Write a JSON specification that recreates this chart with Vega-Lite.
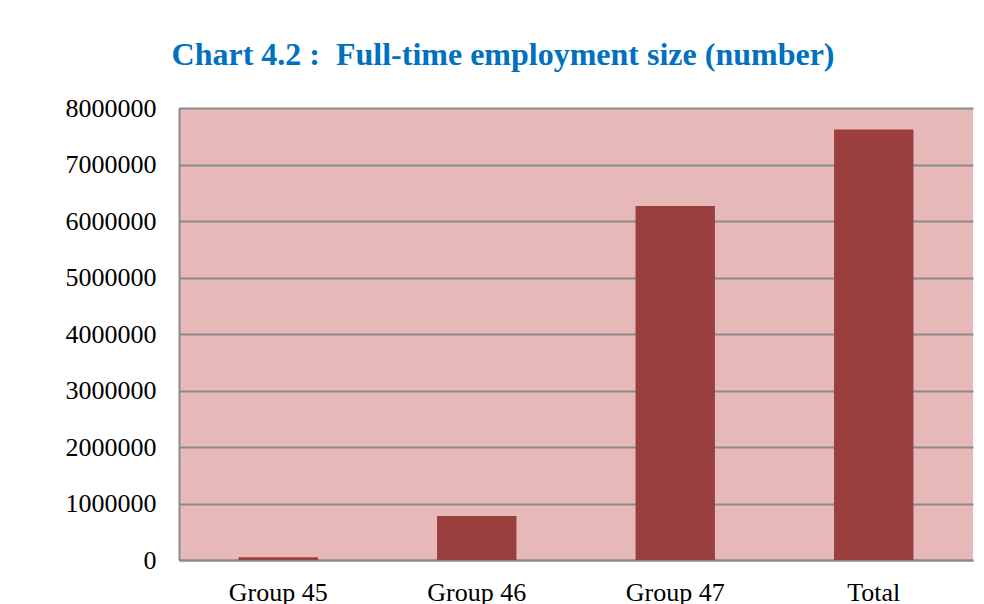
{
  "$schema": "https://vega.github.io/schema/vega-lite/v6.json",
  "autosize": {"type": "none"},
  "width": 794,
  "height": 452,
  "padding": {"left": 179, "top": 108, "right": 11, "bottom": 44},
  "background": "white",
  "title": {
    "text": "Chart 4.2 :\u00a0 Full-time employment size (number)",
    "font": "Liberation Serif",
    "fontSize": 32,
    "fontWeight": "bold",
    "color": "#0070C0",
    "anchor": "middle",
    "baseline": "alphabetic",
    "offset": -2,
    "dx": -73
  },
  "data": {
    "values": [
      {"group": "Group 45", "value": 50000},
      {"group": "Group 46", "value": 780000},
      {"group": "Group 47", "value": 6265000},
      {"group": "Total", "value": 7620000}
    ]
  },
  "mark": {"type": "bar", "color": "#9B3F3E"},
  "encoding": {
    "x": {
      "field": "group",
      "type": "nominal",
      "sort": null,
      "scale": {"paddingInner": 0.6, "paddingOuter": 0.3},
      "axis": {
        "title": null,
        "labelAngle": 0,
        "labelFont": "Liberation Serif",
        "labelFontSize": 26,
        "labelColor": "black",
        "ticks": false,
        "labelPadding": 19,
        "domainColor": "#8a8a8a",
        "domainWidth": 2
      }
    },
    "y": {
      "field": "value",
      "type": "quantitative",
      "scale": {"domain": [0, 8000000], "nice": false},
      "axis": {
        "title": null,
        "values": [0, 1000000, 2000000, 3000000, 4000000, 5000000, 6000000, 7000000, 8000000],
        "format": "d",
        "labelFont": "Liberation Serif",
        "labelFontSize": 26,
        "labelColor": "black",
        "ticks": false,
        "labelPadding": 23,
        "domainColor": "#8a8a8a",
        "domainWidth": 2,
        "gridColor": "#8a8a8a",
        "gridWidth": 2,
        "gridOpacity": 1
      }
    }
  },
  "config": {
    "view": {"fill": "#E6B9B8", "stroke": null}
  }
}
